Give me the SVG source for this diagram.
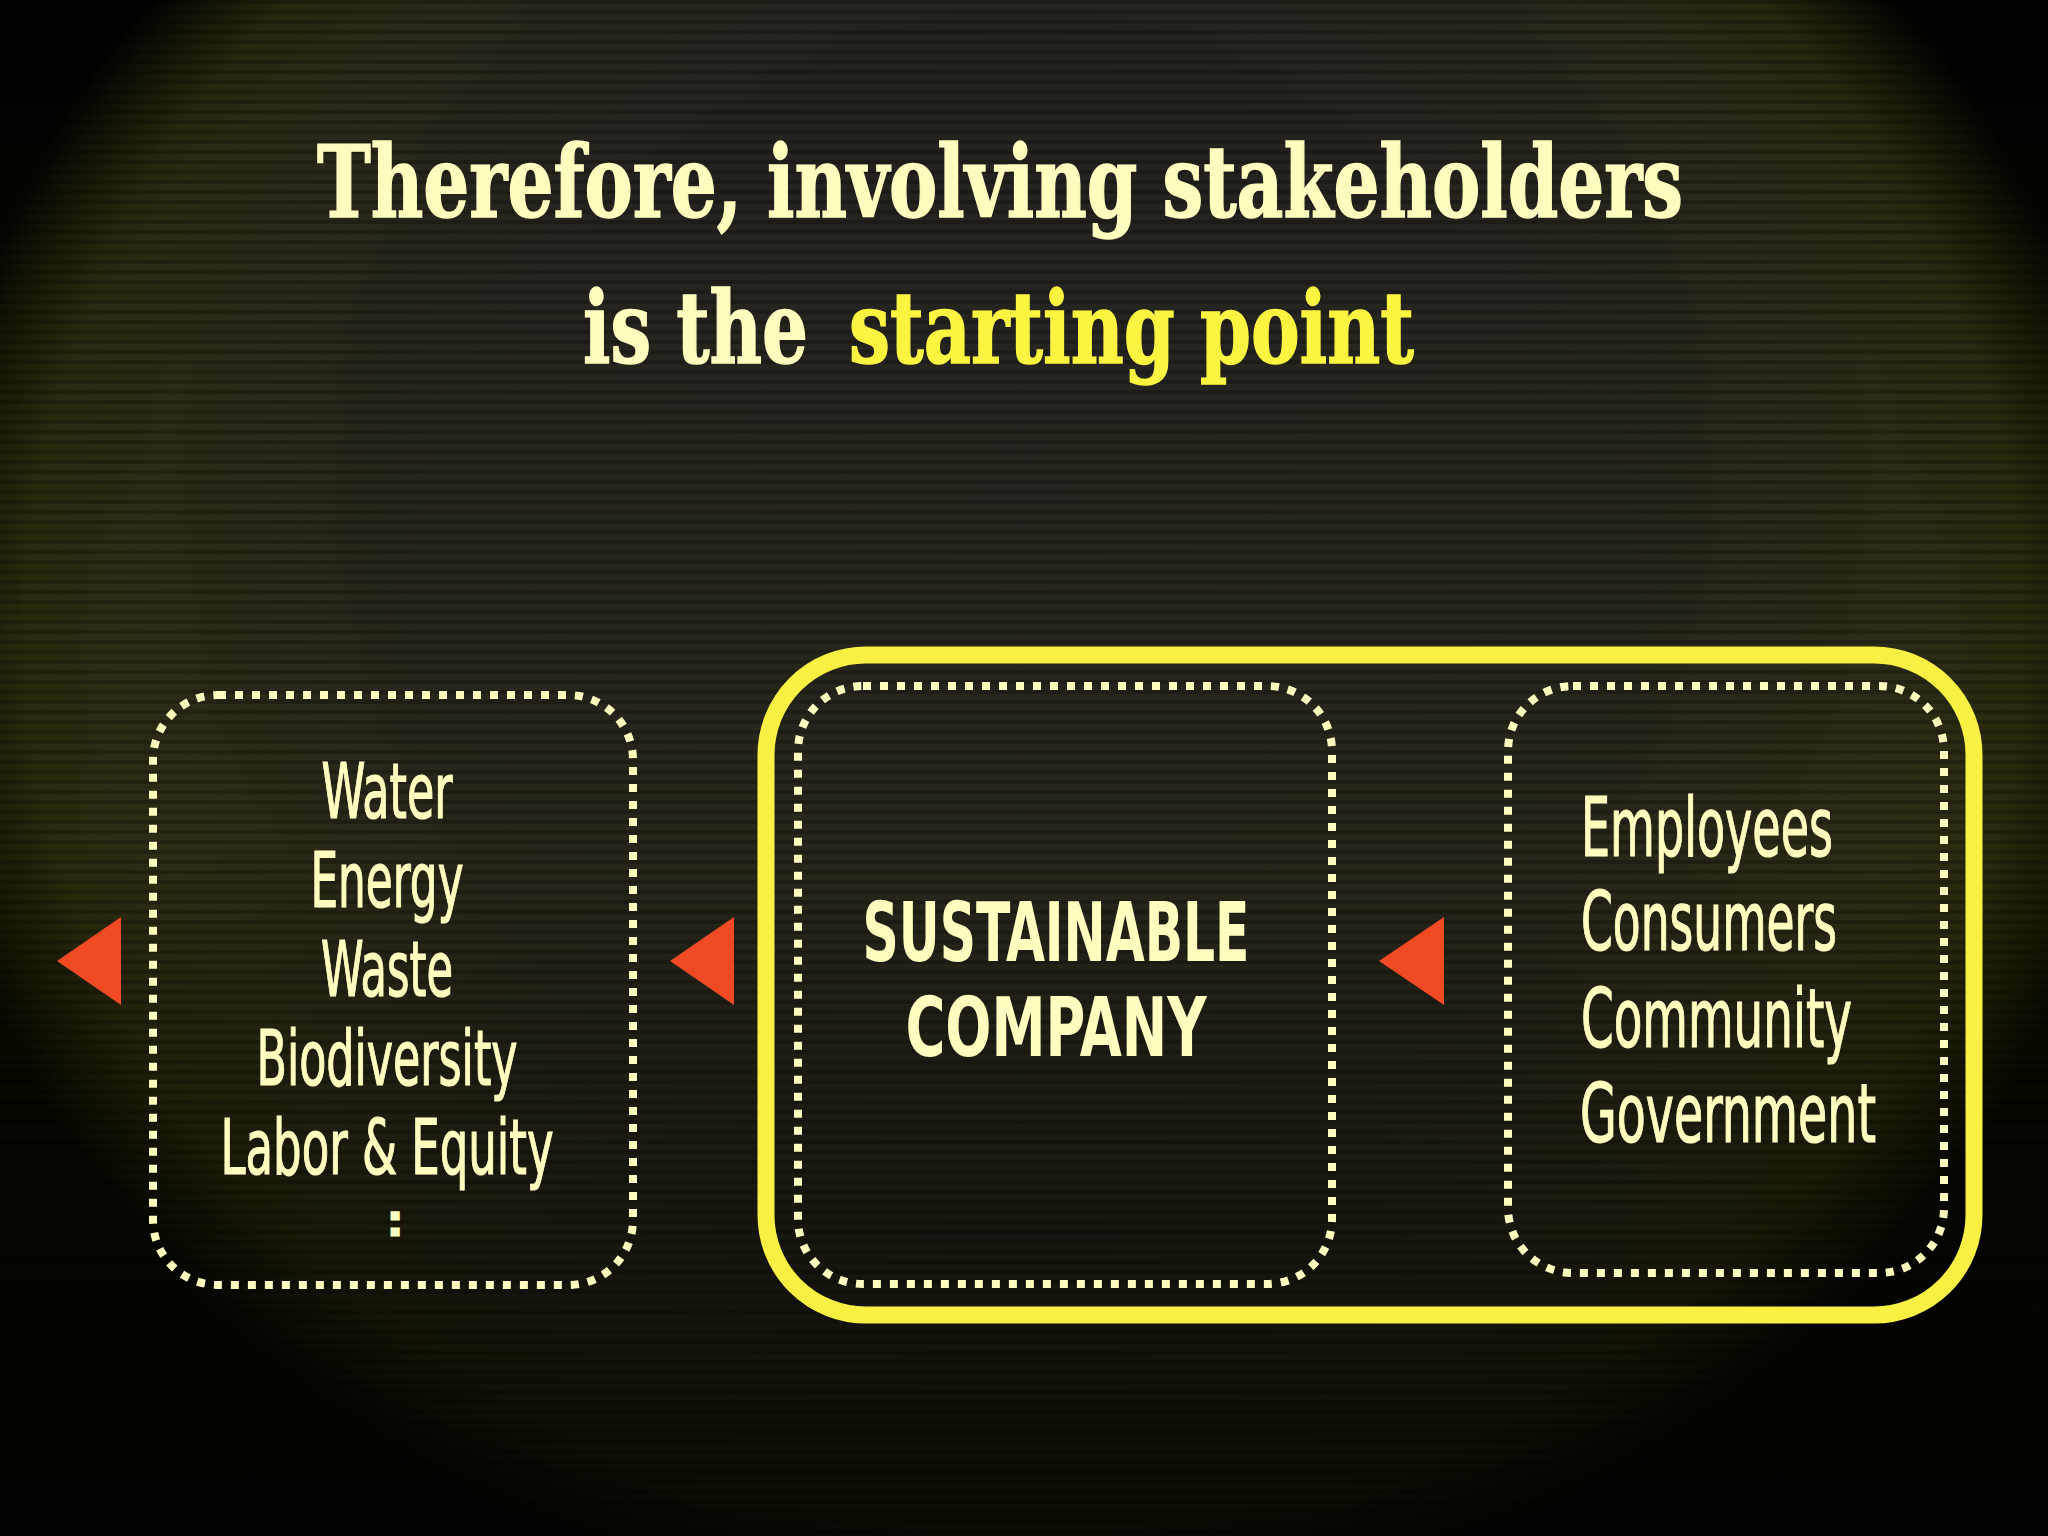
<svg xmlns="http://www.w3.org/2000/svg" width="2048" height="1536" viewBox="0 0 2048 1536">
  <defs>
    <radialGradient id="spot" gradientUnits="userSpaceOnUse" cx="1024" cy="620" r="1110" gradientTransform="translate(1024 620) scale(1 0.911) translate(-1024 -620)">
      <stop offset="0" stop-color="#232223"/>
      <stop offset="0.55" stop-color="#232220"/>
      <stop offset="0.8" stop-color="#29281a"/>
      <stop offset="0.9" stop-color="#28270f"/>
      <stop offset="0.97" stop-color="#0e0e05"/>
      <stop offset="1" stop-color="#000000"/>
    </radialGradient>
    <linearGradient id="tint" x1="0" y1="0" x2="0" y2="1">
      <stop offset="0" stop-color="#3c3a00" stop-opacity="0"/>
      <stop offset="0.3" stop-color="#3c3a00" stop-opacity="0.12"/>
      <stop offset="0.6" stop-color="#3c3a00" stop-opacity="0.2"/>
      <stop offset="1" stop-color="#3c3a00" stop-opacity="0.1"/>
    </linearGradient>
    <linearGradient id="shade" x1="0" y1="0" x2="0" y2="1">
      <stop offset="0" stop-color="#000" stop-opacity="0"/>
      <stop offset="0.55" stop-color="#000" stop-opacity="0"/>
      <stop offset="0.78" stop-color="#000" stop-opacity="0.4"/>
      <stop offset="1" stop-color="#000" stop-opacity="0.75"/>
    </linearGradient>
    <pattern id="scan" width="16" height="10" patternUnits="userSpaceOnUse">
      <rect x="0" y="0" width="16" height="4" fill="#000" opacity="0.22"/>
    </pattern>
    <style>
      .title { font-family: "DejaVu Serif Condensed", "DejaVu Serif", "Liberation Serif", serif; font-weight: bold; font-size: 100px; fill: #fdfdbf; stroke: #fdfdbf; stroke-width: 1.5; }
      .hl { fill: #fbf542; stroke: #fbf542; }
      .item { font-family: "Liberation Sans Narrow", "DejaVu Sans Condensed", "Liberation Sans", sans-serif; font-size: 76px; fill: #fdfdbf; stroke: #fdfdbf; stroke-width: 1.2; }
      .stake { font-family: "Liberation Sans Narrow", "DejaVu Sans Condensed", "Liberation Sans", sans-serif; font-size: 82px; fill: #fdfdbf; stroke: #fdfdbf; stroke-width: 1.2; }
      .core { font-family: "Liberation Sans Narrow", "DejaVu Sans Condensed", "Liberation Sans", sans-serif; font-weight: bold; font-size: 82px; fill: #fdfdbf; }
      .dotted { fill: none; stroke: #fdfdbf; stroke-width: 8; stroke-dasharray: 8 9; }
      .frame { fill: none; stroke: #f8f042; stroke-width: 17; }
      .arrow { fill: #ef4a24; }
    </style>
  </defs>

  <!-- background -->
  <rect x="0" y="0" width="2048" height="1536" fill="#000"/>
  <rect x="0" y="0" width="2048" height="1536" fill="url(#spot)"/>
  <rect x="0" y="0" width="2048" height="1536" fill="url(#tint)"/>
  <rect x="0" y="0" width="2048" height="1536" fill="url(#shade)"/>
  <rect x="0" y="0" width="2048" height="1536" fill="url(#scan)"/>

  <!-- title -->
  <g id="title">
    <text class="title" x="317" y="217" textLength="1366" lengthAdjust="spacingAndGlyphs">Therefore, involving stakeholders</text>
    <text class="title" x="583" y="363" textLength="225" lengthAdjust="spacingAndGlyphs">is the</text>
    <text class="title hl" x="849" y="363" textLength="565" lengthAdjust="spacingAndGlyphs">starting point</text>
  </g>

  <!-- connectors -->
  <g id="connectors">
    <polygon class="arrow" points="57,961 121,917 121,1005"/>
    <polygon class="arrow" points="670,961 734,917 734,1005"/>
    <polygon class="arrow" points="1379,961 1444,917 1444,1005"/>
  </g>

  <!-- sustainable company boundary -->
  <g id="boundary">
    <rect class="frame" x="766" y="655" width="1208" height="660" rx="100" ry="100"/>
  </g>

  <!-- impacts node -->
  <g id="impacts">
    <rect class="dotted" x="153" y="695" width="480" height="590" rx="65" ry="65"/>
    <text class="item" x="387" y="818" text-anchor="middle" textLength="131" lengthAdjust="spacingAndGlyphs">Water</text>
    <text class="item" x="387" y="907" text-anchor="middle" textLength="153" lengthAdjust="spacingAndGlyphs">Energy</text>
    <text class="item" x="387" y="996" text-anchor="middle" textLength="132" lengthAdjust="spacingAndGlyphs">Waste</text>
    <text class="item" x="387" y="1085" text-anchor="middle" textLength="261" lengthAdjust="spacingAndGlyphs">Biodiversity</text>
    <text class="item" x="387" y="1174" text-anchor="middle" textLength="333" lengthAdjust="spacingAndGlyphs">Labor &amp; Equity</text>
    <text x="395" y="1235" text-anchor="middle" font-family="Liberation Sans, sans-serif" font-weight="bold" font-size="44" fill="#fdfdbf" stroke="#fdfdbf" stroke-width="3">:</text>
  </g>

  <!-- company node -->
  <g id="company">
    <rect class="dotted" x="798" y="686" width="534" height="598" rx="65" ry="65"/>
    <text class="core" x="1056" y="961" text-anchor="middle" textLength="387" lengthAdjust="spacingAndGlyphs">SUSTAINABLE</text>
    <text class="core" x="1056" y="1056" text-anchor="middle" textLength="301" lengthAdjust="spacingAndGlyphs">COMPANY</text>
  </g>

  <!-- stakeholders node -->
  <g id="stakeholders">
    <rect class="dotted" x="1508" y="686" width="436" height="587" rx="65" ry="65"/>
    <text class="stake" x="1581" y="856" textLength="252" lengthAdjust="spacingAndGlyphs">Employees</text>
    <text class="stake" x="1581" y="950" textLength="256" lengthAdjust="spacingAndGlyphs">Consumers</text>
    <text class="stake" x="1581" y="1047" textLength="271" lengthAdjust="spacingAndGlyphs">Community</text>
    <text class="stake" x="1580" y="1142" textLength="296" lengthAdjust="spacingAndGlyphs">Government</text>
  </g>
</svg>
